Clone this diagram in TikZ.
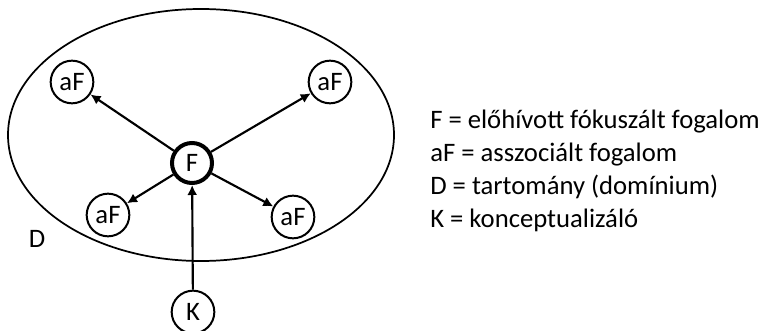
\documentclass[tikz,border=0pt]{standalone}
\usepackage{fontspec}
\setmainfont{Carlito}
\usetikzlibrary{arrows.meta}
\tikzset{
  concept/.style={circle, draw, line width=1.5pt, minimum size=32pt, inner sep=0pt, font=\fontsize{20}{22}\selectfont},
  focus/.style={concept, line width=3pt, minimum size=30pt},
  arr/.style={line width=1.6pt, -{Latex[length=7.5pt,width=7.5pt]}},
  legend/.style={anchor=base west, inner sep=0pt, font=\fontsize{20}{24}\selectfont}
}
\begin{document}
\begin{tikzpicture}[x=0.75pt,y=-0.75pt]
\useasboundingbox (0,0) rectangle (766,331);
\draw[line width=1.3pt] (201,135) ellipse [x radius=193, y radius=126];
\node[focus] (F) at (192,163) {F};
\node[concept] (a1) at (72,82) {aF};
\node[concept] (a2) at (330,82) {aF};
\node[concept] (a3) at (108,215) {aF};
\node[concept] (a4) at (293,217) {aF};
\node[concept] (K) at (193,312) {K};
\node[anchor=center, inner sep=0pt, font=\fontsize{20}{22}\selectfont] (D) at (37,239) {D};
\draw[arr] (F) -- (a1);
\draw[arr] (F) -- (a2);
\draw[arr] (F) -- (a3);
\draw[arr] (F) -- (a4);
\draw[arr] (K) -- (F);
\node[legend] (l1) at (430,129) {F = előhívott fókuszált fogalom};
\node[legend] (l2) at (430,162) {aF = asszociált fogalom};
\node[legend] (l3) at (430,195) {D = tartomány (domínium)};
\node[legend] (l4) at (430,228) {K = konceptualizáló};
\end{tikzpicture}
\end{document}
